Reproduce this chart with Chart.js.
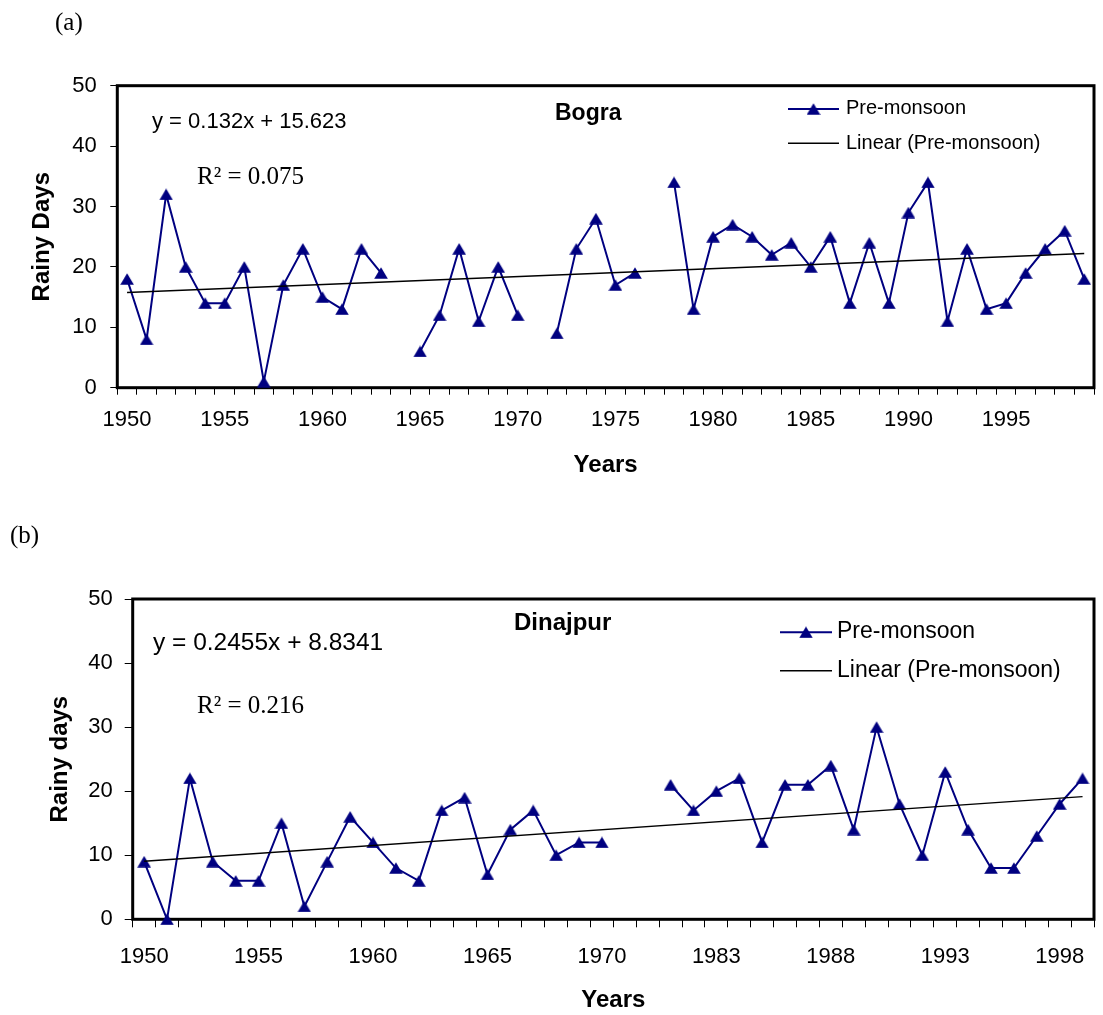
<!DOCTYPE html>
<html>
<head>
<meta charset="utf-8">
<script src="https://cdn.jsdelivr.net/npm/chart.js@4"></script>
<style>
body { margin: 0; background: #fff; }
.panel { position: absolute; left: 0; width: 1103px; }
</style>
</head>
<body>
<div class="panel" style="top:0;height:500px"><canvas id="chartA" width="1103" height="500"></canvas></div>
<div class="panel" style="top:500px;height:515px"><canvas id="chartB" width="1103" height="515"></canvas></div>
<script>
// (a) Bogra
const yearsA = ['1950','1951','1952','1953','1954','1955','1956','1957','1958','1959',
                '1960','1961','1962','1963','1964','1965','1966','1967','1968','1969',
                '1970','1971','1972','1973','1974','1975','1976','1977','1978','1979',
                '1980','1981','1982','1983','1984','1985','1986','1987','1988','1989',
                '1990','1991','1992','1993','1994','1995','1996','1997','1998','1999'];
const rainyA = [18, 8, 32, 20, 14, 14, 20, 1, 17, 23,
                15, 13, 23, 19, null, 6, 12, 23, 11, 20,
                12, null, 9, 23, 28, 17, 19, null, 34, 13,
                25, 27, 25, 22, 24, 20, 25, 14, 24, 14,
                29, 34, 11, 23, 13, 14, 19, 23, 26, 18];
const trendA = [15.76, 22.22]; // linear trend at first and last year

// (b) Dinajpur
const yearsB = ['1950','1951','1952','1953','1954','1955','1956','1957','1958','1959',
                '1960','1961','1962','1963','1964','1965','1966','1967','1968','1969',
                '1970','1979','1980','1981','1982','1983','1984','1985','1986','1987',
                '1988','1989','1990','1991','1992','1993','1994','1995','1996','1997',
                '1998','1999'];
const rainyB = [9, 0, 22, 9, 6, 6, 15, 2, 9, 16,
                12, 8, 6, 17, 19, 7, 14, 17, 10, 12,
                12, null, null, 21, 17, 20, 22, 12, 21, 21,
                24, 14, 30, 18, 10, 23, 14, 8, 8, 13,
                18, 22];
const trendB = [9.08, 19.15];

const labelEvery = 5;
const NAVY = '#000080';
const SANS = 'Liberation Sans';
const SERIF = 'Liberation Serif';

// Excel-style triangle marker, centred on its bounding box
const marker = document.createElement('canvas');
marker.width = 14; marker.height = 12;
(function () {
  const c = marker.getContext('2d');
  c.fillStyle = NAVY;
  c.beginPath();
  c.moveTo(7, 0.3); c.lineTo(13.8, 11.7); c.lineTo(0.2, 11.7);
  c.closePath();
  c.fill();
})();

const decor = {
  id: 'decor',
  beforeDatasetsDraw(chart) {
    const { ctx, chartArea: a } = chart;
    ctx.save();
    ctx.strokeStyle = '#000';
    ctx.lineWidth = 3;
    ctx.strokeRect(a.left, a.top, a.right - a.left, a.bottom - a.top);
    ctx.restore();
  },
  afterDraw(chart, args, o) {
    const ctx = chart.ctx;
    ctx.save();
    ctx.fillStyle = '#000';
    ctx.textBaseline = 'alphabetic';
    o.texts.forEach(t => { ctx.font = t.font; ctx.fillText(t.text, t.x, t.y); });
    const lg = o.legend;
    ctx.font = lg.font;
    // data series row
    ctx.strokeStyle = NAVY; ctx.lineWidth = 2;
    ctx.beginPath(); ctx.moveTo(lg.x0, lg.y1); ctx.lineTo(lg.x1, lg.y1); ctx.stroke();
    ctx.drawImage(marker, (lg.x0 + lg.x1) / 2 - 7, lg.y1 - 6);
    ctx.fillText('Pre-monsoon', lg.tx, lg.b1);
    // trend row
    ctx.strokeStyle = '#000'; ctx.lineWidth = 1.5;
    ctx.beginPath(); ctx.moveTo(lg.x0, lg.y2); ctx.lineTo(lg.x1, lg.y2); ctx.stroke();
    ctx.fillText('Linear (Pre-monsoon)', lg.tx, lg.b2);
    ctx.restore();
  }
};

function makePanel(id, years, values, trend, p) {
  return new Chart(document.getElementById(id), {
    type: 'line',
    data: {
      labels: years,
      datasets: [
        {
          label: 'Linear (Pre-monsoon)',
          data: [{ x: years[0], y: trend[0] }, { x: years[years.length - 1], y: trend[1] }],
          borderColor: '#000',
          borderWidth: 1.5,
          pointRadius: 0
        },
        {
          label: 'Pre-monsoon',
          data: values,
          borderColor: NAVY,
          backgroundColor: NAVY,
          borderWidth: 2,
          pointStyle: marker,
          pointRadius: 7,
          spanGaps: false,
          clip: false
        }
      ]
    },
    options: {
      responsive: false,
      animation: false,
      events: [],
      layout: { padding: { top: p.top, right: p.right, left: 0, bottom: 0 } },
      plugins: {
        legend: { display: false },
        tooltip: { enabled: false },
        decor: { texts: p.texts, legend: p.legend }
      },
      scales: {
        x: {
          type: 'category',
          offset: true,
          afterFit(s) { s.height = p.xHeight; },
          grid: { offset: true, drawOnChartArea: false, drawTicks: true, tickLength: p.tick, color: '#000', lineWidth: 1 },
          border: { display: false },
          ticks: {
            autoSkip: false, maxRotation: 0, color: '#000', padding: p.xPad,
            font: { family: SANS, size: 22 },
            callback(v, i) { return i % labelEvery === 0 ? this.getLabelForValue(v) : ''; }
          },
          title: { display: true, text: 'Years', color: '#000',
                   font: { family: SANS, size: 24, weight: 'bold' },
                   padding: { top: 0, bottom: p.xTitlePad } }
        },
        y: {
          min: 0, max: 50,
          afterFit(s) { s.width = p.yWidth; },
          grid: { drawOnChartArea: false, drawTicks: true, tickLength: p.tick, color: '#000', lineWidth: 1 },
          border: { display: false },
          ticks: { stepSize: 10, color: '#000', padding: p.yPad, font: { family: SANS, size: 22 } },
          title: { display: true, text: p.yTitle, color: '#000',
                   font: { family: SANS, size: 24, weight: 'bold' },
                   padding: { top: p.yTitlePad, bottom: 0 } }
        }
      }
    },
    plugins: [decor]
  });
}

makePanel('chartA', yearsA, rainyA, trendA, {
  top: 85.7, right: 7, xHeight: 112.3, yWidth: 117.3, tick: 7,
  xPad: 12, yPad: 13.6, xTitlePad: 20.6, yTitlePad: 28.3, yTitle: 'Rainy Days',
  texts: [
    { text: '(a)', x: 55, y: 30, font: '25px ' + SERIF },
    { text: 'y = 0.132x + 15.623', x: 152, y: 128, font: '22px ' + SANS },
    { text: 'R² = 0.075', x: 197, y: 184, font: '25px ' + SERIF },
    { text: 'Bogra', x: 555, y: 120, font: 'bold 23px ' + SANS }
  ],
  legend: { font: '20px ' + SANS, x0: 788, x1: 839, tx: 846, y1: 109, b1: 114, y2: 143.3, b2: 149.3 }
});

makePanel('chartB', yearsB, rainyB, trendB, {
  top: 99, right: 3, xHeight: 95.7, yWidth: 132.7, tick: 8,
  xPad: 16.5, yPad: 12, xTitlePad: 0.6, yTitlePad: 46.3, yTitle: 'Rainy days',
  texts: [
    { text: '(b)', x: 10, y: 42.6, font: '25px ' + SERIF },
    { text: 'y = 0.2455x + 8.8341', x: 153, y: 150, font: '24.5px ' + SANS },
    { text: 'R² = 0.216', x: 197, y: 212.7, font: '25px ' + SERIF },
    { text: 'Dinajpur', x: 514, y: 130, font: 'bold 24px ' + SANS }
  ],
  legend: { font: '23px ' + SANS, x0: 780, x1: 832, tx: 837, y1: 132.3, b1: 138.3, y2: 170.7, b2: 177.3 }
});
</script>
</body>
</html>
